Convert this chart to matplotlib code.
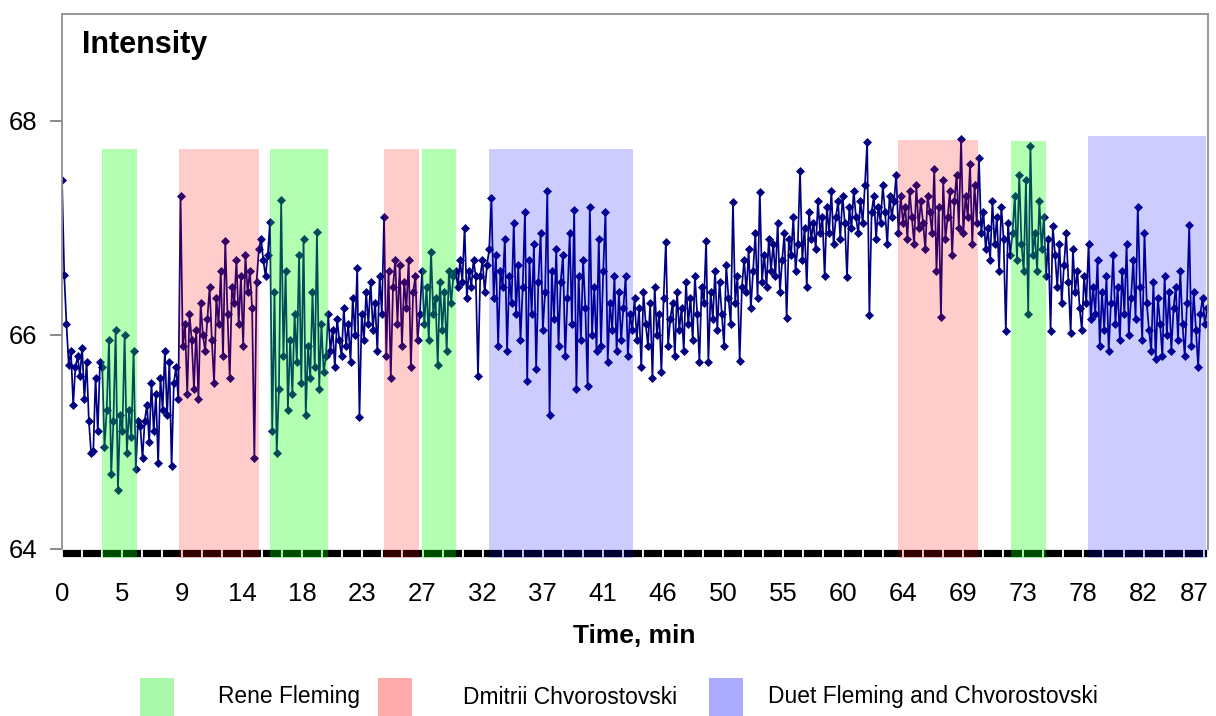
import numpy as np
import matplotlib
matplotlib.use('Agg')
import matplotlib.pyplot as plt
from matplotlib.patches import Rectangle

plt.rcParams['font.family'] = ['Liberation Sans', 'DejaVu Sans']

# intensity readings, 6 samples per chart unit
intensity = [
    67.45, 66.56, 66.10, 65.72, 65.85, 65.35,
    65.70, 65.80, 65.62, 65.88, 65.40, 65.75,
    65.20, 64.90, 64.92, 65.60, 65.10, 65.75,
    65.70, 64.95, 65.30, 65.95, 64.70, 65.20,
    66.05, 64.55, 65.25, 65.10, 66.00, 64.90,
    65.30, 65.05, 65.85, 64.75, 65.20, 65.15,
    64.85, 65.20, 65.35, 65.00, 65.55, 65.10,
    65.45, 64.80, 65.60, 65.30, 65.85, 65.25,
    65.75, 64.78, 65.55, 65.70, 65.40, 67.30,
    65.90, 66.10, 65.45, 66.20, 65.95, 65.50,
    66.05, 65.40, 66.30, 66.00, 65.85, 66.15,
    66.45, 65.95, 65.55, 66.35, 66.10, 66.60,
    65.80, 66.88, 66.20, 65.60, 66.45, 66.30,
    66.70, 66.10, 66.55, 65.90, 66.75, 66.40,
    66.60, 66.25, 64.85, 66.50, 66.80, 66.90,
    66.70, 66.55, 66.75, 67.06, 65.10, 66.40,
    64.90, 65.50, 67.26, 65.80, 66.60, 65.30,
    65.95, 65.45, 66.20, 65.75, 66.75, 65.55,
    66.90, 65.25, 65.90, 65.60, 66.40, 65.70,
    66.96, 65.50, 66.10, 65.65, 65.80, 66.20,
    65.85, 66.05, 65.70, 66.15, 65.95, 65.80,
    66.25, 65.90, 66.10, 65.75, 66.35, 66.00,
    66.63, 65.23, 66.20, 65.95, 66.40, 66.10,
    66.50, 66.05, 66.30, 65.85, 66.55, 66.20,
    67.10, 65.80, 66.60, 65.60, 66.45, 66.70,
    66.10, 66.65, 65.90, 66.50, 66.25, 66.70,
    65.70, 66.40, 66.55, 65.95, 66.20, 66.60,
    66.10, 66.45, 65.95, 66.78, 66.20, 66.35,
    65.72, 66.50, 66.05, 66.40, 65.85, 66.60,
    66.30, 66.55, 66.60, 66.45, 66.70, 66.50,
    67.00, 66.35, 66.60, 66.45, 66.70, 66.55,
    65.62, 66.55, 66.70, 66.40, 66.65, 66.80,
    67.28, 66.35, 66.75, 65.90, 66.60, 66.45,
    66.90, 65.85, 66.55, 66.30, 67.05, 66.20,
    66.65, 65.95, 66.45, 67.15, 65.57, 66.70,
    66.20, 66.85, 65.68, 66.50, 66.95, 66.05,
    66.40, 67.35, 65.25, 66.60, 66.15, 66.80,
    65.90, 66.50, 66.75, 65.80, 66.35, 66.95,
    66.10, 67.17, 65.50, 66.55, 65.95, 66.70,
    66.25, 65.52, 67.20, 66.00, 66.45, 65.85,
    66.90, 65.90, 66.60, 67.15, 65.75, 66.30,
    66.05, 66.55, 65.85, 66.40, 65.95, 66.25,
    66.55, 65.80, 66.20, 66.05, 66.35, 65.95,
    66.25, 65.70, 66.40, 66.10, 65.90, 66.30,
    65.60, 66.45, 66.00, 66.20, 65.65, 66.35,
    66.87, 65.90, 66.15, 66.30, 65.80, 66.40,
    66.05, 66.25, 65.85, 66.50, 66.10, 66.35,
    65.95, 66.55, 66.20, 65.75, 66.45, 66.30,
    66.88, 65.75, 66.40, 66.15, 66.60, 66.05,
    66.50, 66.20, 65.90, 66.65, 66.35, 66.10,
    67.24, 66.30, 66.55, 65.76, 66.45, 66.70,
    66.40, 66.80, 66.25, 66.60, 66.95, 66.35,
    67.34, 66.50, 66.75, 66.45, 66.90, 66.60,
    66.85, 66.55, 67.05, 66.40, 66.70, 66.95,
    66.16, 66.90, 66.75, 67.10, 66.60, 66.85,
    67.53, 66.70, 67.00, 66.45, 67.15, 66.90,
    67.05, 66.80, 67.25, 66.95, 67.10, 66.55,
    67.20, 66.95, 67.35, 66.85, 67.10, 67.25,
    66.90, 67.30, 67.05, 66.54, 67.20, 67.00,
    67.35, 67.10, 66.95, 67.25, 67.05, 67.40,
    67.80, 66.19, 67.15, 67.30, 66.90, 67.20,
    67.05, 67.40, 67.15, 66.85, 67.30, 67.10,
    67.25, 67.50, 66.95, 67.30, 67.05, 67.20,
    66.90, 67.35, 67.10, 66.85, 67.40, 67.00,
    67.25, 67.05, 66.80, 67.30, 67.15, 66.95,
    67.55, 66.60, 67.20, 66.17, 67.45, 66.90,
    67.10, 67.35, 66.75, 67.25, 67.50, 67.00,
    67.83, 66.95, 67.30, 67.10, 67.60, 66.85,
    67.40, 67.05, 67.65, 66.95, 67.15, 66.80,
    67.00, 66.70, 67.25, 66.85, 67.10, 66.60,
    67.20, 66.90, 66.04, 67.05, 66.75, 66.95,
    67.30, 66.70, 67.50, 66.85, 66.60, 67.45,
    66.20, 67.77, 66.75, 66.95, 66.60, 67.25,
    66.80, 67.10, 66.55, 66.90, 66.04, 67.02,
    66.75, 66.45, 66.85, 66.30, 66.65, 66.95,
    66.50, 66.02, 66.80, 66.40, 66.60, 66.25,
    66.05, 66.55, 66.30, 66.85, 66.15, 66.45,
    66.20, 66.70, 65.90, 66.40, 66.05, 66.55,
    65.85, 66.30, 66.75, 66.10, 66.45, 65.95,
    66.60, 66.20, 66.85, 66.00, 66.35, 66.70,
    66.15, 67.20, 66.45, 65.95, 66.95, 66.30,
    66.05, 65.85, 66.50, 65.78, 66.35, 66.10,
    65.80, 66.55, 66.00, 66.40, 65.85, 66.25,
    66.45, 65.95, 66.60, 66.10, 65.80, 66.30,
    67.03, 65.90, 66.40, 66.05, 65.70, 66.20,
    66.35, 66.10, 66.25,
]
samples_per_unit = 6

# singing episodes (chart units)
span_start = [2.99, 8.73, 15.52, 23.96, 26.79, 31.79, 62.31, 70.75, 76.49]
span_end = [5.60, 14.70, 19.85, 26.57, 29.33, 42.54, 68.28, 73.36, 85.22]
span_top = [67.74, 67.74, 67.74, 67.74, 67.74, 67.74, 67.82, 67.81, 67.86]
span_who = ['rene', 'dmitrii', 'rene', 'dmitrii', 'rene', 'duet', 'dmitrii', 'rene', 'duet']

x_tick_labels = ['0', '5', '9', '14', '18', '23', '27', '32', '37', '41',
                 '46', '50', '55', '60', '64', '69', '73', '78', '82', '87']
label_step = 60 / 13.4
last_label_pos = 84.4

legend_names = ['Rene Fleming', 'Dmitrii Chvorostovski', 'Duet Fleming and Chvorostovski']

overlay = {'rene': ('#00ff00', 0.30), 'dmitrii': ('#ff0000', 0.20), 'duet': ('#0000ff', 0.20)}
legend_colors = ['#aaf8aa', '#ffaaaa', '#aaaaff']

X_MAX = 85.4
Y_MIN, Y_MAX = 64, 69
BAND_LOW = 63.916

fig = plt.figure(figsize=(12.16, 7.16), dpi=100)
ax = fig.add_axes([62 / 1216, 1 - 549 / 716, (1208 - 62) / 1216, (549 - 14) / 716])

t = np.arange(len(intensity)) / samples_per_unit
ax.plot(t, intensity, color='#000080', lw=1.25, marker='D', markersize=4.3,
        markeredgewidth=0.5, zorder=2)

# black/white category band under the plot
period = label_step / 3
starts = np.arange(0, X_MAX, period)
widths = np.minimum(period, X_MAX - starts)
band = ax.bar(starts, Y_MIN - BAND_LOW, width=widths, bottom=BAND_LOW, align='edge',
              color='black', edgecolor='white', linewidth=1.3, zorder=2)
for b in band:
    b.set_clip_on(False)

# translucent episode overlays on top of the data
for s, e, top, who in zip(span_start, span_end, span_top, span_who):
    col, a = overlay[who]
    bars = ax.bar(s, top - BAND_LOW, width=e - s, bottom=BAND_LOW, align='edge',
                  color=col, alpha=a, linewidth=0, zorder=3)
    for b in bars:
        b.set_clip_on(False)

ax.set_xlim(0, X_MAX)
ax.set_ylim(Y_MIN, Y_MAX)

tick_pos = [i * label_step for i in range(len(x_tick_labels) - 1)] + [last_label_pos]
ax.set_xticks(tick_pos)
ax.set_xticklabels(x_tick_labels)
ax.tick_params(axis='x', length=0, pad=24, labelsize=18.5)
ax.set_yticks([64, 66, 68])
ax.tick_params(axis='y', length=9, width=1.3, color='#808080', pad=9, labelsize=18.5)

for side in ['left', 'top', 'right']:
    ax.spines[side].set_color('#909090')
    ax.spines[side].set_linewidth(1.3)
ax.spines['bottom'].set_visible(False)

ax.text(20 / 1146, 1 - 31 / 535, 'Intensity', transform=ax.transAxes,
        fontsize=22, fontweight='bold', ha='left', va='center')

fig.text(634 / 1216, 1 - 636 / 716, 'Time, min', fontsize=19, fontweight='bold',
         ha='center', va='center')

# legend along the bottom edge
box_x = [140, 378, 709]
text_x = [218, 463, 768]
for bx, tx, col, name in zip(box_x, text_x, legend_colors, legend_names):
    fig.add_artist(Rectangle((bx / 1216, 0), 34 / 1216, 38 / 716,
                             transform=fig.transFigure, color=col, lw=0))
    fig.text(tx / 1216, 1 - 697 / 716, name, fontsize=16.4, ha='left', va='center')

fig.savefig('out.png', dpi=100)
